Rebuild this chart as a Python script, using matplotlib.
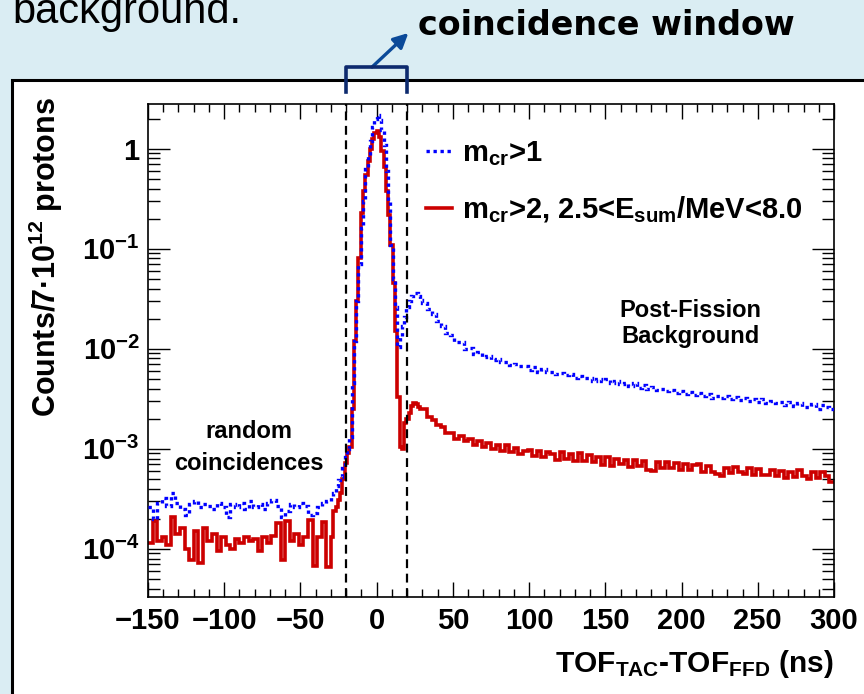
import numpy as np
import matplotlib
matplotlib.use("Agg")
import matplotlib.pyplot as plt
import matplotlib.transforms as mtransforms
from matplotlib.patches import Rectangle
from matplotlib.lines import Line2D
from matplotlib.ticker import MultipleLocator, FixedLocator, LogLocator, NullFormatter

plt.rcParams['font.family'] = ['Liberation Sans', 'DejaVu Sans']
plt.rcParams['font.weight'] = 'bold'
plt.rcParams['axes.labelweight'] = 'bold'
plt.rcParams['mathtext.fontset'] = 'custom'
plt.rcParams['mathtext.rm'] = 'Liberation Sans:bold'
plt.rcParams['mathtext.it'] = 'Liberation Sans:bold'
plt.rcParams['mathtext.bf'] = 'Liberation Sans:bold'
plt.rcParams['mathtext.sf'] = 'Liberation Sans:bold'

# bin edges (ns): 3 ns outside, 1.5 ns around the prompt peak
edges = np.concatenate([np.arange(-150, -30, 3.0),
                        np.arange(-30, 30, 1.5),
                        np.arange(30, 300.01, 3.0)])

# m_cr > 1 (blue, dotted)
blue_left_e4 = [2.6, 2.0, 2.9, 3.2, 2.7, 3.6, 2.9, 2.5, 2.2, 2.8,
                3.0, 2.6, 2.8, 2.7, 2.5, 2.9, 2.6, 2.1, 2.8, 2.6,
                2.9, 2.5, 3.0, 2.6, 2.8, 2.5, 2.9, 3.1, 2.7, 2.1,
                2.4, 2.8, 2.6, 2.9, 2.7, 2.2, 2.3, 2.6, 2.9, 3.0]
blue_mid = [3.3e-4, 3.6e-4, 4.2e-4, 4.9e-4, 5.2e-4, 6.5e-4, 8.3e-4, 1.0e-3, 1.3e-3, 4.5e-3,
            0.012, 0.03, 0.07, 0.16, 0.30, 0.62, 0.85, 1.2, 1.65, 2.0,
            2.19, 1.95, 1.55, 1.1, 0.6, 0.3, 0.11, 0.05, 0.026, 0.0105,
            0.013, 0.017, 0.021, 0.026, 0.030, 0.034, 0.036, 0.036, 0.034, 0.031]
blue_tail_e3 = [29, 25, 22.5, 19, 17, 14.5, 13.6, 11.8, 11.6, 10.0,
                10.2, 8.9, 9.2, 8.2, 8.5, 7.7, 7.9, 7.4, 7.4, 6.9,
                7.0, 6.7, 6.7, 6.2, 6.5, 5.9, 6.3, 5.8, 5.9, 5.55,
                5.75, 5.45, 5.55, 5.15, 5.35, 5.1, 5.15, 4.8, 5.0, 4.75,
                4.95, 4.55, 4.75, 4.4, 4.6, 4.25, 4.5, 4.1, 4.35, 4.0,
                4.15, 3.9, 4.0, 3.75, 3.9, 3.6, 3.75, 3.5, 3.7, 3.42,
                3.6, 3.35, 3.5, 3.25, 3.4, 3.2, 3.35, 3.12, 3.3, 3.05,
                3.2, 2.98, 3.15, 2.92, 3.12, 2.88, 3.0, 2.85, 2.95, 2.72,
                2.92, 2.68, 2.85, 2.62, 2.6, 2.8, 2.5, 2.75, 2.62, 2.5]

# m_cr > 2, 2.5 < E_sum/MeV < 8.0 (red, solid)
red_left_e4 = [1.15, 1.9, 1.2, 1.3, 1.1, 2.1, 1.4, 1.6, 1.0, 0.78,
               1.5, 0.72, 1.6, 1.2, 1.4, 0.95, 1.3, 1.1, 1.0, 1.25,
               1.15, 1.3, 1.2, 1.25, 0.95, 1.3, 1.15, 1.35, 1.8, 0.78,
               1.9, 1.2, 1.4, 1.1, 1.3, 1.95, 0.68, 1.3, 1.85, 0.66]
red_mid = [1.3e-4, 2.4e-4, 2.6e-4, 3.1e-4, 3.6e-4, 5.0e-4, 7.2e-4, 9.0e-4, 1.05e-3, 2.5e-3,
           0.012, 0.03, 0.08, 0.23, 0.38, 0.55, 0.75, 1.0, 1.25, 1.45,
           1.52, 1.30, 0.95, 0.65, 0.38, 0.22, 0.11, 0.045, 0.015, 3.3e-3,
           1.05e-3, 1.0e-3, 1.8e-3, 2.0e-3, 2.3e-3, 2.7e-3, 2.9e-3, 2.8e-3, 2.6e-3, 2.5e-3]
red_tail_e4 = [25, 21, 19.5, 17.5, 16.5, 14.5, 14.5, 12.5, 13.5, 12,
               12.5, 11, 12, 10.5, 11.5, 10, 11, 9.5, 10.8, 9.2,
               10.3, 8.8, 9.6, 9.8, 8.5, 9.6, 8.2, 9.3, 8.9, 7.8,
               9.2, 8.0, 8.8, 7.6, 9.0, 7.5, 8.6, 7.3, 8.3, 6.9,
               8.2, 6.8, 8.0, 7.1, 7.8, 6.6, 7.7, 6.7, 7.5, 6.2,
               6.0, 7.4, 6.5, 7.3, 6.4, 7.2, 6.1, 7.0, 6.2, 6.9,
               7.1, 5.9, 6.7, 5.8, 5.6, 5.4, 6.4, 5.7, 6.6, 5.8,
               5.6, 6.5, 5.5, 6.3, 5.5, 5.5, 6.2, 5.3, 6.0, 5.1,
               5.9, 5.2, 6.1, 5.3, 5.0, 5.9, 5.1, 5.8, 5.4, 4.7]

blue = np.concatenate([np.array(blue_left_e4) * 1e-4, blue_mid, np.array(blue_tail_e3) * 1e-3])
red = np.concatenate([np.array(red_left_e4) * 1e-4, red_mid, np.array(red_tail_e4) * 1e-4])

window = [-20, 20]
y_ticks = [1e-4, 1e-3, 1e-2, 1e-1, 1]
y_labels = [r'$10^{-4}$', r'$10^{-3}$', r'$10^{-2}$', r'$10^{-1}$', '1']

fig = plt.figure(figsize=(8.64, 6.94), dpi=100, facecolor='#daedf3')

# white slide panel
fig.add_artist(Rectangle((12 / 864, -0.05), 1.0, (694 - 80) / 694 + 0.05,
                         transform=fig.transFigure, facecolor='white',
                         edgecolor='black', lw=2.2, zorder=-2))

ax = fig.add_axes([148 / 864, 97 / 694, 686 / 864, 493 / 694])
ax.set_yscale('log')

ax.stairs(blue, edges, baseline=None, color='#0000ff', lw=2.4, ls=(0, (1, 1.1)), zorder=3)
ax.stairs(red, edges, baseline=None, color='#cc0000', lw=2.6, zorder=2)

for xv in window:
    ax.axvline(xv, color='black', lw=1.6, ls=(0, (4, 2.5)), zorder=4)

ax.set_xlim(-150, 300)
ax.set_ylim(3.3e-5, 2.8)

ax.xaxis.set_major_locator(MultipleLocator(50))
ax.xaxis.set_minor_locator(MultipleLocator(10))
ax.yaxis.set_major_locator(FixedLocator(y_ticks))
ax.set_yticklabels(y_labels)
ax.yaxis.set_minor_locator(LogLocator(base=10, subs=np.arange(2, 10)))
ax.yaxis.set_minor_formatter(NullFormatter())

ax.tick_params(which='both', direction='in', top=True, right=True, labelsize=21, width=1)
ax.tick_params(axis='x', which='major', length=11, pad=7)
ax.tick_params(axis='x', which='minor', length=6)
ax.tick_params(axis='y', which='major', length=16, pad=6)
ax.tick_params(axis='y', which='minor', length=8.5)
for sp in ax.spines.values():
    sp.set_linewidth(1.2)

ax.set_xlabel(r'TOF$_{\mathrm{TAC}}$-TOF$_{\mathrm{FFD}}$ (ns)', fontsize=21.5, loc='right')
ax.xaxis.set_label_coords(1.0, -0.103)
ax.set_ylabel('Counts/7·10$^{12}$ protons', fontsize=22)
ax.yaxis.set_label_coords(-0.121, 0.69)

ax.text(-84, 1.03e-3, 'random\ncoincidences', ha='center', va='center', fontsize=17, linespacing=1.45)
ax.text(206, 0.018, 'Post-Fission\nBackground', ha='center', va='center', fontsize=17, linespacing=1.15)

handles = [Line2D([], [], color='#0000ff', lw=2.4, ls=(0, (1, 1.1))),
           Line2D([], [], color='#cc0000', lw=2.6)]
labels = [r'm$_{\mathrm{cr}}$>1', r'm$_{\mathrm{cr}}$>2, 2.5<E$_{\mathrm{sum}}$/MeV<8.0']
ax.legend(handles, labels, loc='upper left', bbox_to_anchor=(0.405, 0.929), frameon=False,
          fontsize=21, handlelength=0.9, handletextpad=0.35, labelspacing=0.9, borderpad=0,
          borderaxespad=0)

# coincidence-window bracket and arrow above the frame
blend = mtransforms.blended_transform_factory(ax.transData, fig.transFigure)
yb_top = 1 - 67 / 694
yb_bot = 1 - 92 / 694
fig.add_artist(Line2D([window[0], window[0], window[1], window[1]], [yb_bot, yb_top, yb_top, yb_bot],
                      transform=blend, color='#0d2a6e', lw=2.6, solid_joinstyle='round', zorder=5))
ax.annotate('', xy=(20.8, 1 - 33 / 694), xytext=(-3, yb_top), xycoords=blend, textcoords=blend,
            arrowprops=dict(arrowstyle='-|>', color='#0b4a99', lw=2.4, mutation_scale=22,
                            shrinkA=0, shrinkB=0), annotation_clip=False)

fig.text(12 / 864, 1 - 23 / 694, 'background.', fontsize=30, fontweight='normal', va='baseline')
fig.text(418 / 864, 1 - 35 / 694, 'coincidence window', fontsize=24, family='DejaVu Sans',
         fontweight='heavy', va='baseline')

fig.savefig('out.png', dpi=100, facecolor=fig.get_facecolor())
